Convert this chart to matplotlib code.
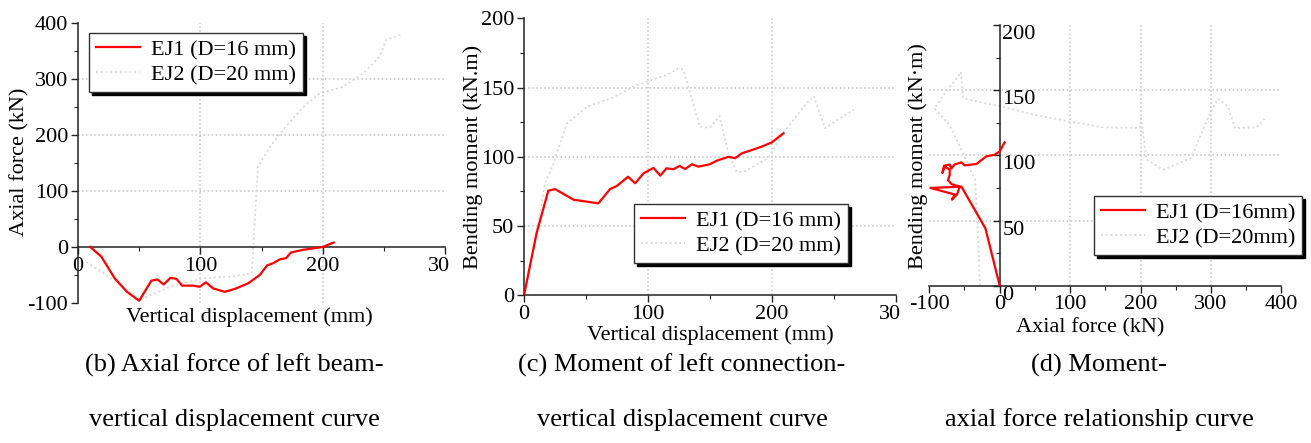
import matplotlib
matplotlib.use("Agg")
import matplotlib.pyplot as plt
from matplotlib.ticker import MultipleLocator
from matplotlib.transforms import Bbox, TransformedBbox

plt.rcParams['font.family'] = ['Liberation Serif', 'DejaVu Serif']
plt.rcParams['axes.unicode_minus'] = False

# (b) axial force vs vertical displacement
b_ej1_disp = [10, 19, 30, 40, 50, 60, 65, 70, 75.6, 80.5, 85, 94, 99.6, 104.5, 110.5,
              120, 128, 139, 148.6, 154.5, 159.5, 165, 170, 174, 184, 200, 209]
b_ej1_axial = [0, -17, -56, -80, -96, -60, -58, -67, -55, -57, -69, -69, -71, -63, -74,
               -80, -75, -65, -50, -33, -29, -22, -20, -10, -5, 0, 8]
b_ej2_disp = [7, 30, 50, 56, 75, 102, 124, 142, 144.5, 147, 157, 167.6, 184, 197.5,
              216.6, 233, 246.5, 252, 264]
b_ej2_axial = [-27, -60, -95, -89, -71, -56, -53, -47, 48, 143, 179, 209, 250, 274,
               286, 310, 340, 370, 379]

# (c) moment vs vertical displacement
c_ej1_disp = [0, 10.2, 19.6, 25, 40, 60, 69.5, 75, 84, 89.7, 96.4, 104.5, 110, 115,
              120.6, 125.5, 130, 135.5, 140.8, 150, 155.6, 165, 170.4, 175.8, 190.6,
              200, 209.4]
c_ej1_moment = [0, 45, 75.5, 76.7, 69, 66.4, 76.7, 79, 85.6, 80.9, 88, 92, 86.4, 91.7,
                91, 93.4, 91.2, 94.6, 92.9, 94.6, 97.2, 100, 99, 102.5, 106.9, 110.4, 117]
c_ej2_disp = [0, 10, 17, 23.7, 34.5, 50.6, 72, 88, 104.5, 115, 124.7, 128.7, 142, 150,
              157.8, 165, 171.8, 177, 185, 197, 209, 225.6, 233.7, 243, 255, 266]
c_ej2_moment = [0, 45, 81, 95, 124, 136, 143, 150.6, 156, 159, 164, 162.7, 121.7, 121,
                129.5, 102.5, 89, 89, 93, 99, 117, 136, 144, 120.6, 127.8, 133.8]

# (d) moment vs axial force
d_ej1_axial = [0, -20.3, -54.4, -98.4, -64, -67.7, -60.6, -56.8, -68.6, -73.4, -71,
               -71, -78, -81.4, -79, -71, -68.6, -64, -54.4, -49.7, -33, -19, -7, 0, 7]
d_ej1_moment = [0, 44, 76, 75, 70, 66, 70, 76, 78, 81, 85, 89, 91.5, 86.5, 92, 93, 90,
                93, 94.6, 92.3, 93.4, 99.2, 100.5, 103, 110]
d_ej2_axial = [-28, -31, -35, -55, -72, -93, -80, -64, -55, -52, -30, 0, 50, 99, 147,
               199, 201, 206, 208, 232, 272, 289, 301, 310, 324, 334, 365, 376]
d_ej2_moment = [0, 40, 81, 105, 124, 136, 146, 157, 164, 144, 141, 137.7, 131, 126,
                121.5, 121, 128.7, 107, 97, 89, 98, 120, 135, 143.4, 137.7, 121, 121.5, 128]

labels_bc = ['EJ1 (D=16 mm)', 'EJ2 (D=20 mm)']
labels_d = ['EJ1 (D=16mm)', 'EJ2 (D=20mm)']
captions = [
    ('(b) Axial force of left beam-', 'vertical displacement curve'),
    ('(c) Moment of left connection-', 'vertical displacement curve'),
    ('(d) Moment-', 'axial force relationship curve'),
]

W, H = 1311, 443
fig = plt.figure(figsize=(W / 100, H / 100), dpi=100)

def rect(x0, x1, ytop, ybot):
    return [x0 / W, 1 - ybot / H, (x1 - x0) / W, (ybot - ytop) / H]

RED = '#ff0000'
GRAY = '#d6d6d6'
GRIDC = '#c4c4c4'
FS = 16


def style(ax, xgrid, ygrid, xminor, yminor):
    ax.spines['top'].set_visible(False)
    ax.spines['right'].set_visible(False)
    for s in ('left', 'bottom'):
        ax.spines[s].set_linewidth(1.1)
        ax.spines[s].set_color('#222222')
    ax.xaxis.set_minor_locator(MultipleLocator(xminor))
    ax.yaxis.set_minor_locator(MultipleLocator(yminor))
    ax.tick_params(which='major', direction='out', length=5, width=1, labelsize=FS,
                   color='#222222', pad=2)
    ax.tick_params(which='minor', direction='out', length=3, width=0.8, color='#222222')
    for g in xgrid:
        ax.axvline(g, color=GRIDC, ls=':', lw=1.1, zorder=0)
    for g in ygrid:
        ax.axhline(g, color=GRIDC, ls=':', lw=1.1, zorder=0)


def legend(ax, handles, labels, x, y):
    leg = ax.legend(handles, labels, loc='upper left',
                    bbox_to_anchor=(x / W, 1 - y / H), bbox_transform=fig.transFigure,
                    fancybox=False, shadow={'color': 'black', 'alpha': 1},
                    edgecolor='#333333', framealpha=1, fontsize=FS,
                    handlelength=2.0, handletextpad=0.5, borderpad=0.3,
                    labelspacing=0.2, borderaxespad=0)
    leg.get_frame().set_linewidth(1.0)
    return leg


def clip_right(ax, xpix):
    box = TransformedBbox(Bbox([[0, 0], [xpix / W, 1]]), fig.transFigure)
    for t in ax.xaxis.get_major_ticks():
        t.label1.set_clip_box(box)
        t.label1.set_clip_on(True)


def place_labels(ax, xlab, ylab, xpos, ypos):
    ax.set_xlabel(xlab, fontsize=FS, va='center')
    ax.set_ylabel(ylab, fontsize=FS, va='center')
    ax.xaxis.set_label_coords(xpos[0] / W, 1 - xpos[1] / H, transform=fig.transFigure)
    ax.yaxis.set_label_coords(ypos[0] / W, 1 - ypos[1] / H, transform=fig.transFigure)


# ---- panel (b)
axb = fig.add_axes(rect(78, 445, 23, 303))
l1, = axb.plot(b_ej1_disp, b_ej1_axial, color=RED, lw=1.6, zorder=3)
l2, = axb.plot(b_ej2_disp, b_ej2_axial, color=GRAY, lw=1.3, ls=':', zorder=2)
axb.set_xlim(0, 300)
axb.set_ylim(-100, 400)
axb.set_xticks([0, 100, 200, 300])
axb.set_yticks([-100, 0, 100, 200, 300, 400])
axb.spines['bottom'].set_position(('data', 0))
style(axb, [100, 200], [100, 200, 300], 50, 50)
place_labels(axb, 'Vertical displacement (mm)', 'Axial force (kN)', (249, 317), (20, 162))
legend(axb, [l1, l2], labels_bc, 89, 33)
clip_right(axb, 450)

# ---- panel (c)
axc = fig.add_axes(rect(524, 895.7, 18.3, 295.3))
l1, = axc.plot(c_ej1_disp, c_ej1_moment, color=RED, lw=1.6, zorder=3)
l2, = axc.plot(c_ej2_disp, c_ej2_moment, color=GRAY, lw=1.3, ls=':', zorder=2)
axc.set_xlim(0, 300)
axc.set_ylim(0, 200)
axc.set_xticks([0, 100, 200, 300])
axc.set_yticks([0, 50, 100, 150, 200])
style(axc, [100, 200], [50, 100, 150], 50, 25)
place_labels(axc, 'Vertical displacement (mm)', 'Bending moment (kN.m)', (710, 335), (473, 157))
legend(axc, [l1, l2], labels_bc, 634, 204)
clip_right(axc, 900)

# ---- panel (d)
axd = fig.add_axes(rect(929.3, 1281.3, 25, 285.7))
l1, = axd.plot(d_ej1_axial, d_ej1_moment, color=RED, lw=1.6, zorder=3)
l2, = axd.plot(d_ej2_axial, d_ej2_moment, color=GRAY, lw=1.3, ls=':', zorder=2)
axd.set_xlim(-100, 400)
axd.set_ylim(0, 200)
axd.set_xticks([-100, 0, 100, 200, 300, 400])
axd.set_yticks([0, 50, 100, 150, 200])
axd.spines['left'].set_position(('data', 0))
style(axd, [100, 200, 300], [50, 100, 150], 50, 25)
axd.tick_params(axis='y', which='major', pad=-7)
for t in axd.get_yticklabels():
    t.set_horizontalalignment('left')
    t.set_verticalalignment('top')
place_labels(axd, 'Axial force (kN)', 'Bending moment (kN\u00b7m)', (1090, 328), (918, 156))
legend(axd, [l1, l2], labels_d, 1094, 196)

# ---- captions
cap_x = [234, 682, 1099]
for cx, (c1, c2) in zip(cap_x, captions):
    fig.text(cx / W, 1 - 365 / H, c1, ha='center', va='center', fontsize=19)
    fig.text(cx / W, 1 - 420 / H, c2, ha='center', va='center', fontsize=19)

fig.savefig('out.png', dpi=100)
